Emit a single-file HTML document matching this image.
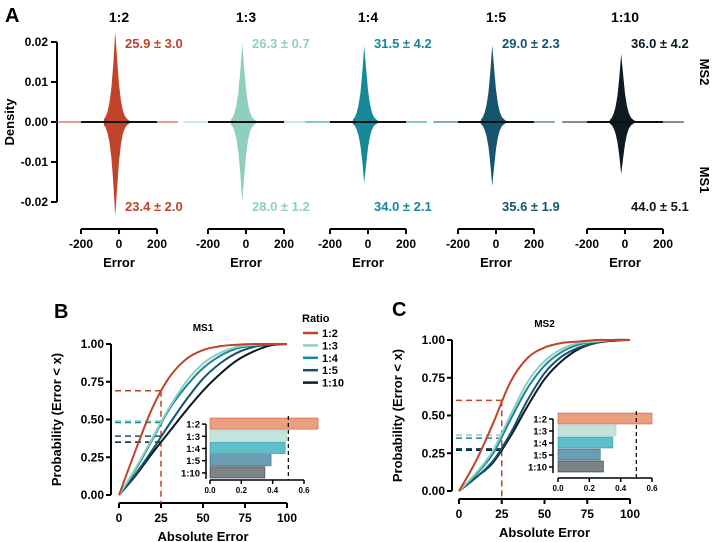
<!DOCTYPE html>
<html><head><meta charset="utf-8"><style>
html,body{margin:0;padding:0;background:#fff}
svg{display:block;font-family:"Liberation Sans",Arial,sans-serif;font-weight:bold}
</style></head><body>
<svg id="fig" width="714" height="542" viewBox="0 0 714 542" xmlns="http://www.w3.org/2000/svg"></svg>
<script>
// ---------- Panel A data ----------
const ratios = ["1:2","1:3","1:4","1:5","1:10"];
const colors = ["#c0432a","#8fcfbf","#17879a","#15536f","#0c1a22"];
const barColors = ["#e9a07f","#c4e3dc","#5cbfca","#6b9db3","#7c8488"];
const errorBins = [-80,-70,-60,-50,-40,-30,-20,-10,0,10,20,30,40,50,60,70,80];
const densityShape = [0.03,0.06,0.12,0.22,0.38,0.65,1,0.7,0.42,0.24,0.13,0.07,0.04,0.02,0.01,0.005,0];
const ms2Peak = [0.0225,0.0197,0.019,0.0192,0.017];
const ms1Peak = [0.0235,0.020,0.0153,0.016,0.013];
const ms2Labels = ["25.9 ± 3.0","26.3 ± 0.7","31.5 ± 4.2","29.0 ± 2.3","36.0 ± 4.2"];
const ms1Labels = ["23.4 ± 2.0","28.0 ± 1.2","34.0 ± 2.1","35.6 ± 1.9","44.0 ± 5.1"];
const densityTicks = [0.02,0.01,0,-0.01,-0.02];
const densityTickLabels = ["0.02","0.01","0.00","-0.01","-0.02"];
const errorTicks = [-200,0,200];
// ---------- Panels B/C data ----------
const absErr = [0,10,20,30,40,50,60,70,80,90,100];
const ms1Cdf12 = [0,0.3,0.58,0.78,0.9,0.96,0.985,0.995,1,1,1];
const ms1Cdf13 = [0,0.18,0.38,0.58,0.75,0.87,0.94,0.98,0.995,1,1];
const ms1Cdf14 = [0,0.17,0.37,0.57,0.72,0.84,0.92,0.97,0.99,1,1];
const ms1Cdf15 = [0,0.14,0.3,0.47,0.63,0.77,0.87,0.94,0.98,0.995,1];
const ms1Cdf110 = [0,0.13,0.28,0.42,0.56,0.69,0.8,0.89,0.95,0.99,1];
const ms2Cdf12 = [0,0.2,0.45,0.72,0.88,0.95,0.98,0.99,1,1,1];
const ms2Cdf13 = [0,0.12,0.27,0.5,0.72,0.86,0.94,0.98,0.99,1,1];
const ms2Cdf14 = [0,0.11,0.25,0.47,0.68,0.83,0.92,0.97,0.99,1,1];
const ms2Cdf15 = [0,0.09,0.2,0.38,0.6,0.78,0.89,0.95,0.98,1,1];
const ms2Cdf110 = [0,0.09,0.19,0.36,0.56,0.74,0.86,0.94,0.98,0.995,1];
const ms1At25 = [0.69,0.49,0.48,0.39,0.35];
const ms2At25 = [0.6,0.37,0.35,0.28,0.27];
const ms1Bars = [0.69,0.49,0.48,0.39,0.35];
const ms2Bars = [0.6,0.37,0.35,0.27,0.29];
const probTicks = [0,0.25,0.5,0.75,1];
const probTickLabels = ["0.00","0.25","0.50","0.75","1.00"];
const absTicks = [0,25,50,75,100];
const insetTicks = [0,0.2,0.4,0.6];
const insetTickLabels = ["0.0","0.2","0.4","0.6"];

const NS="http://www.w3.org/2000/svg";
const svg=document.getElementById('fig');
function mk(tag,attrs,parent){const e=document.createElementNS(NS,tag);for(const k in attrs)e.setAttribute(k,attrs[k]);(parent||svg).appendChild(e);return e;}
function txt(s,x,y,size,anchor,fill,parent){const t=mk('text',{x:x,y:y,'font-size':size,'text-anchor':anchor||'middle',fill:fill||'#000'},parent);t.textContent=s;return t;}
function line(x1,y1,x2,y2,stroke,w,parent,dash){const a={x1:x1,y1:y1,x2:x2,y2:y2,stroke:stroke,'stroke-width':w};if(dash)a['stroke-dasharray']=dash;return mk('line',a,parent);}

// ---------- Panel A ----------
let t=txt('A',5,22,20,'start');


const yA=v=>122-v/0.01*40;
const panelLeft=[81,208,330,458,587];
const gA=mk('g',{});


const dAx=mk('g',{},gA);


line(57,yA(0.02),57,yA(-0.02),'#000',2,dAx);
densityTicks.forEach((v,i)=>{line(51,yA(v),57,yA(v),'#000',2,dAx);txt(densityTickLabels[i],48,yA(v)+4,12,'end','#000',dAx);});
t=txt('Density',14,122,13,'middle','#000',gA);
t.setAttribute('transform','rotate(-90 14 122)');


ratios.forEach((r,i)=>{
  const L=panelLeft[i], xS=v=>L+(v+200)/400*76, cx=xS(0);
  const g=mk('g',{},gA);
  
  
  let tt=txt(r,cx,22,14,'middle','#000',g);
  
  
  line(xS(-330),122,xS(310),122,colors[i],1,g);
  let top='',bot='';
  errorBins.forEach((b,j)=>{top+=(j?'L':'M')+xS(b)+','+yA(ms2Peak[i]*densityShape[j]);});
  for(let j=errorBins.length-1;j>=0;j--){bot+='L'+xS(errorBins[j])+','+yA(-ms1Peak[i]*densityShape[j]);}
  const p=mk('path',{d:top+bot+'Z',fill:colors[i]},g);
  
  
  line(xS(-200),122,xS(200),122,'#111',2,g);
  tt=txt(ms2Labels[i],cx+6,48,13,'start',colors[i],g);
  
  
  tt=txt(ms1Labels[i],cx+6,211,13,'start',colors[i],g);
  
  
  const ax=mk('g',{},g);
  
  
  line(xS(-200),229,xS(200),229,'#000',2,ax);
  errorTicks.forEach(v=>{line(xS(v),229,xS(v),234,'#000',2,ax);txt(String(v),xS(v),248,12,'middle','#000',ax);});
  tt=txt('Error',cx,267,13,'middle','#000',ax);
  
  
});
t=txt('MS2',700,72,13,'middle');t.setAttribute('transform','rotate(90 700 72)');


t=txt('MS1',700,180,13,'middle');t.setAttribute('transform','rotate(90 700 180)');



// ---------- CDF panels ----------
function smoothPath(pts){let d='M'+pts[0][0]+','+pts[0][1];for(let i=0;i<pts.length-1;i++){const p0=pts[i-1]||pts[i],p1=pts[i],p2=pts[i+1],p3=pts[i+2]||p2;d+='C'+(p1[0]+(p2[0]-p0[0])/6)+','+(p1[1]+(p2[1]-p0[1])/6)+' '+(p2[0]-(p3[0]-p1[0])/6)+','+(p2[1]-(p3[1]-p1[1])/6)+' '+p2[0]+','+p2[1];}return d;}
function cdfPanel(o){
  const g=mk('g',{});
  
  
  const xS=v=>o.x0+v/100*(o.x1-o.x0), yS=v=>o.y0-v*(o.y0-o.y1);
  let tt=txt(o.letter,o.lx,o.ly,20,'start','#000',g);
  
  
  tt=txt(o.title,(o.x0+o.x1)/2,o.ty,10,'middle','#000',g);
  
  
  const ya=mk('g',{},g);
  
  
  line(o.ax,yS(0),o.ax,yS(1),'#000',2,ya);
  probTicks.forEach((v,i)=>{line(o.ax-5,yS(v),o.ax,yS(v),'#000',2,ya);txt(probTickLabels[i],o.ax-7,yS(v)+4,12,'end','#000',ya);});
  const ycx=o.ax-50, ycy=(yS(0)+yS(1))/2;
  tt=txt('Probability (Error < x)',ycx,ycy,13,'middle','#000',ya);
  tt.setAttribute('transform','rotate(-90 '+ycx+' '+ycy+')');
  
  
  const xa=mk('g',{},g);
  
  
  line(xS(0),o.ay,xS(100),o.ay,'#000',2,xa);
  absTicks.forEach(v=>{line(xS(v),o.ay,xS(v),o.ay+5,'#000',2,xa);txt(String(v),xS(v),o.ay+19,12,'middle','#000',xa);});
  tt=txt('Absolute Error',(xS(0)+xS(100))/2,o.ay+38,13,'middle','#000',xa);
  
  
  o.at25.forEach((v,i)=>{const l=line(o.ax+4,yS(v),xS(25),yS(v),colors[i],1.5,g,'6,4');});
  const vl=line(xS(25),yS(o.at25[0]),xS(25),o.ay,colors[0],1.5,g,'6,4');
  
  
  for(let i=o.curves.length-1;i>=0;i--){
    const pts=absErr.map((x,j)=>[xS(x),yS(o.curves[i][j])]);
    const p=mk('path',{d:smoothPath(pts),fill:'none',stroke:colors[i],'stroke-width':2},g);
    
    
  }
  const ig=mk('g',{},g);
  
  
  const bx=v=>o.ix0+v/0.6*(o.ix1-o.ix0);
  const bh=(o.ib1-o.ib0)/5;
  o.bars.forEach((v,i)=>{
    const r=mk('rect',{x:bx(0),y:o.ib0+i*bh,width:bx(v)-bx(0),height:bh-1,fill:barColors[i],stroke:colors[i],'stroke-width':0.8,'stroke-opacity':0.6},ig);
    
    
    line(o.iax-4,o.ib0+i*bh+bh/2,o.iax,o.ib0+i*bh+bh/2,'#000',1.5,ig);
    txt(ratios[i],o.iax-6,o.ib0+i*bh+bh/2+3.5,9.5,'end','#000',ig);
  });
  line(o.iax,o.ib0+bh/2,o.iax,o.ib1,'#000',1.5,ig);
  line(bx(0),o.iay,bx(0.6),o.iay,'#000',1.5,ig);
  insetTicks.forEach((v,i)=>{line(bx(v),o.iay,bx(v),o.iay+4,'#000',1.5,ig);txt(insetTickLabels[i],bx(v),o.iay+13,8,'middle','#000',ig);});
  const dl=line(bx(0.5),o.ib0-2,bx(0.5),o.iay,'#000',1.2,ig,'4,3');
  
  
}
cdfPanel({name:'panel-b',letter:'B',lx:54,ly:318,title:'MS1',ty:331,x0:119,x1:287,y0:495,y1:344,ax:111,ay:503,
  curves:[ms1Cdf12,ms1Cdf13,ms1Cdf14,ms1Cdf15,ms1Cdf110],at25:ms1At25,bars:ms1Bars,ix0:210,ix1:304,ib0:418,ib1:479,iax:206,iay:480});
cdfPanel({name:'panel-c',letter:'C',lx:392,ly:316,title:'MS2',ty:327,x0:459,x1:630,y0:491,y1:340,ax:452,ay:499,
  curves:[ms2Cdf12,ms2Cdf13,ms2Cdf14,ms2Cdf15,ms2Cdf110],at25:ms2At25,bars:ms2Bars,ix0:558,ix1:652,ib0:413,ib1:473,iax:553,iay:478});
const lg=mk('g',{});


txt('Ratio',302,322,11,'start','#000',lg);
ratios.forEach((r,i)=>{
  const y=333+i*12.4;
  const e=mk('g',{},lg);
  
  
  line(303,y,318,y,colors[i],2.5,e);
  txt(r,322,y+4,11,'start','#000',e);
});
</script>
</body></html>
